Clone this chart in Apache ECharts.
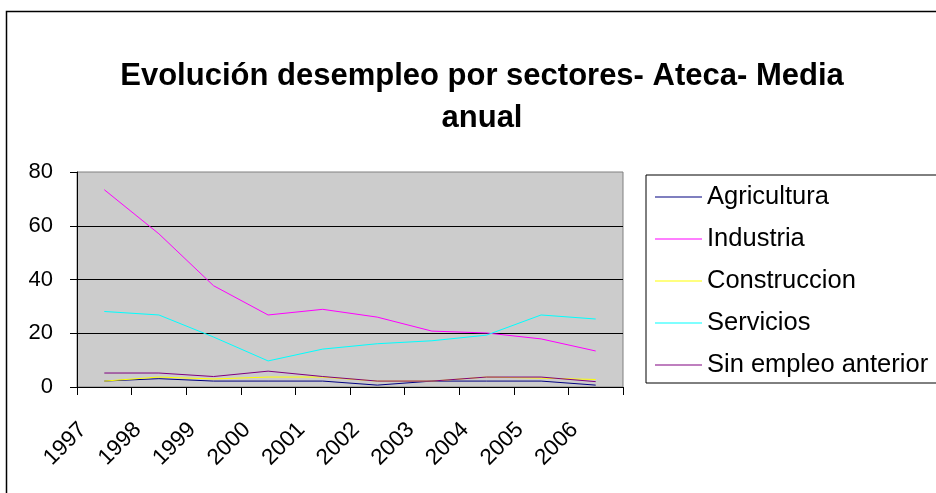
<!DOCTYPE html>
<html>
<head>
<meta charset="utf-8">
<script src="https://cdn.jsdelivr.net/npm/echarts@6/dist/echarts.min.js"></script>
<style>
html,body{margin:0;padding:0;background:#fff;}
#chart{width:936px;height:493px;}
</style>
</head>
<body>
<div id="chart"></div>
<script>
const years = ['1997','1998','1999','2000','2001','2002','2003','2004','2005','2006'];
const yTicks = [0, 20, 40, 60, 80];
const seriesNames = ['Agricultura','Industria','Construccion','Servicios','Sin empleo anterior'];
const agricultura = [2.2, 3.1, 2.2, 2.2, 2.2, 0.7, 2.2, 2.2, 2.2, 0.7];
const industria = [73.4, 57.0, 37.7, 26.8, 28.9, 26.0, 20.8, 20.1, 17.9, 13.4];
const construccion = [2.2, 3.7, 3.0, 3.7, 3.7, 2.2, 2.2, 3.7, 3.3, 2.8];
const servicios = [28.1, 26.8, 18.6, 9.7, 14.1, 16.1, 17.2, 19.3, 26.8, 25.3];
const sinEmpleo = [5.2, 5.2, 3.9, 5.9, 3.9, 2.2, 2.2, 3.7, 3.7, 2.0];
const titleLines = ['Evolución desempleo por sectores- Ateca- Media', 'anual'];

const colors = ['#000080', '#FF00FF', '#FFFF00', '#00FFFF', '#800080'];
const values = [agricultura, industria, construccion, servicios, sinEmpleo];
const FONT = '"Liberation Sans", Arial, sans-serif';

const chart = echarts.init(document.getElementById('chart'), null, {renderer: 'canvas'});
chart.setOption({
  animation: false,
  backgroundColor: '#ffffff',
  graphic: [
    {type: 'rect', shape: {x: 6.5, y: 11.5, width: 940, height: 490}, style: {fill: 'none', stroke: '#000', lineWidth: 1.5}, z: -10},
    {type: 'text', x: 482, y: 76, style: {text: titleLines[0], font: 'bold 31px ' + FONT, fill: '#000', align: 'center', verticalAlign: 'middle'}},
    {type: 'text', x: 482, y: 118, style: {text: titleLines[1], font: 'bold 31px ' + FONT, fill: '#000', align: 'center', verticalAlign: 'middle'}}
  ],
  grid: {left: 77, right: 313, top: 172, bottom: 106, show: true, backgroundColor: '#cccccc', borderColor: '#808080', borderWidth: 1},
  legend: {
    orient: 'vertical', left: 646, top: 175,
    padding: [7, 10, 3, 9],
    borderColor: '#000', borderWidth: 1,
    itemWidth: 47, itemHeight: 1, itemGap: 12,
    icon: 'rect',
    textStyle: {fontFamily: FONT, fontSize: 25.5, color: '#000', lineHeight: 30},
    data: seriesNames
  },
  xAxis: {
    type: 'category', data: years, boundaryGap: true,
    axisLine: {lineStyle: {color: '#000', width: 1}},
    axisTick: {show: true, length: 8, lineStyle: {color: '#000'}},
    axisLabel: {rotate: 45, fontFamily: FONT, fontSize: 22.5, color: '#000', margin: 18, padding: [0, 30, 0, 0], interval: 0}
  },
  yAxis: {
    type: 'value', min: yTicks[0], max: yTicks[yTicks.length - 1], interval: 20,
    axisLine: {show: true, lineStyle: {color: '#000', width: 1}},
    axisTick: {show: true, length: 7, lineStyle: {color: '#000'}},
    axisLabel: {fontFamily: FONT, fontSize: 22, color: '#000', margin: 24},
    splitLine: {show: true, showMinLine: false, showMaxLine: false, lineStyle: {color: '#000', width: 1}}
  },
  series: seriesNames.map((n, i) => ({
    name: n, type: 'line', data: values[i], symbol: 'none',
    lineStyle: {color: colors[i], width: 1},
    itemStyle: {color: colors[i]}
  }))
});
</script>
</body>
</html>
